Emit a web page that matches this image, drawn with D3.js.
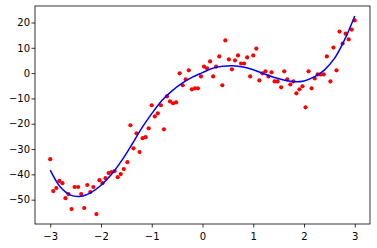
<!DOCTYPE html>
<html>
<head>
<meta charset="utf-8">
<script src="https://cdn.jsdelivr.net/npm/d3@7"></script>
<style>
  body { margin: 0; background: #fff; }
  svg { display: block; }
  .tick text { font-family: "DejaVu Sans", sans-serif; font-size: 10px; fill: #000; }
</style>
</head>
<body>
<div id="chart"></div>
<script>
// scatter samples (red dots)
const pointX = [
  -3.00, -2.94, -2.88, -2.82, -2.76, -2.70, -2.64, -2.58, -2.52, -2.45,
  -2.39, -2.33, -2.27, -2.21, -2.15, -2.09, -2.03, -1.97, -1.91, -1.85,
  -1.79, -1.73, -1.67, -1.61, -1.55, -1.48, -1.42, -1.36, -1.30, -1.24,
  -1.18, -1.12, -1.06, -1.00, -0.94, -0.88, -0.82, -0.76, -0.70, -0.64,
  -0.58, -0.52, -0.45, -0.39, -0.33, -0.27, -0.21, -0.15, -0.09, -0.03,
  0.03, 0.09, 0.15, 0.21, 0.27, 0.33, 0.39, 0.45, 0.52, 0.58,
  0.64, 0.70, 0.76, 0.82, 0.88, 0.94, 1.00, 1.06, 1.12, 1.18,
  1.24, 1.30, 1.36, 1.42, 1.48, 1.55, 1.61, 1.67, 1.73, 1.79,
  1.85, 1.91, 1.97, 2.03, 2.09, 2.15, 2.21, 2.27, 2.33, 2.39,
  2.45, 2.52, 2.58, 2.64, 2.70, 2.76, 2.82, 2.88, 2.94, 3.00
];
const pointY = [
  -34.0, -46.6, -45.4, -42.6, -43.5, -49.4, -47.8, -53.7, -45.0, -45.0,
  -47.8, -53.3, -44.2, -47.0, -45.0, -55.7, -42.3, -43.5, -41.5, -39.5,
  -39.1, -38.7, -41.1, -39.9, -37.9, -35.2, -20.6, -29.7, -23.8, -31.2,
  -25.7, -25.3, -21.8, -12.7, -17.1, -15.9, -12.7, -22.2, -9.2, -11.2,
  -11.9, -11.6, -0.1, -4.8, -2.5, 1.1, -6.4, -6.0, -6.0, -1.3,
  2.6, 1.9, 4.6, -1.3, 2.6, 6.6, -4.8, 12.9, 5.4, 1.5,
  5.0, 7.0, 3.8, 3.8, 6.2, -1.3, 7.0, 9.7, -2.9, -0.1,
  0.7, -1.3, 0.3, -3.3, -3.3, -5.6, 0.7, -2.5, -4.5, -3.3,
  -8.0, -6.4, -5.2, -13.5, 0.7, -6.0, -2.1, -0.5, -0.5, -0.5,
  6.6, -3.3, 10.1, 1.1, 16.4, 11.7, 15.6, 13.3, 17.2, 20.8
];

// fitted curve (blue line)
const fitX = [
  -3.0, -2.8, -2.6, -2.4, -2.2, -2.0, -1.8, -1.6, -1.4, -1.2, -1.0,
  -0.8, -0.6, -0.4, -0.2, 0.0, 0.2, 0.4, 0.6, 0.8, 1.0,
  1.2, 1.4, 1.6, 1.8, 2.0, 2.2, 2.4, 2.6, 2.8, 3.0
];
const fitY = [
  -38.3, -45.0, -48.2, -48.7, -47.2, -44.3, -40.2, -34.8, -28.5, -21.8, -16.0,
  -10.8, -7.0, -4.0, -1.6, 0.2, 1.9, 2.7, 2.9, 2.4, 1.3,
  -0.2, -1.6, -2.7, -3.4, -3.1, -1.5, 1.2, 5.8, 13.2, 22.6
];

const xTicks = [-3, -2, -1, 0, 1, 2, 3];
const yTicks = [-50, -40, -30, -20, -10, 0, 10, 20];

const width = 377;
const height = 248;
const margin = { top: 6, right: 7, bottom: 24, left: 35 };

const points = pointX.map((x, i) => ({ x, y: pointY[i] }));
const fit = fitX.map((x, i) => ({ x, y: fitY[i] }));

// matplotlib style 5% padding around the data
const pad = ([lo, hi]) => [lo - (hi - lo) * 0.05, hi + (hi - lo) * 0.05];
const xExt = d3.extent(pointX.concat(fitX));
const yExt = d3.extent(pointY.concat(fitY));

const x = d3.scaleLinear().domain(pad(xExt)).range([margin.left, width - margin.right]);
const y = d3.scaleLinear().domain(pad(yExt)).range([height - margin.bottom, margin.top]);

const svg = d3.select("#chart").append("svg").attr("width", width).attr("height", height);

svg
  .append("g")
  .attr("transform", `translate(0,${height - margin.bottom})`)
  .call(d3.axisBottom(x).tickValues(xTicks).tickFormat(d3.format("d")).tickSizeInner(3.5).tickSizeOuter(0).tickPadding(5))
  .call((g) => g.select(".domain").remove())
  .call((g) => g.selectAll(".tick line").attr("stroke", "#000").attr("stroke-width", 0.8));

svg
  .append("g")
  .attr("transform", `translate(${margin.left},0)`)
  .call(d3.axisLeft(y).tickValues(yTicks).tickFormat(d3.format("d")).tickSizeInner(3.5).tickSizeOuter(0).tickPadding(1.5))
  .call((g) => g.select(".domain").remove())
  .call((g) => g.selectAll(".tick line").attr("stroke", "#000").attr("stroke-width", 0.8));

// dots
svg
  .append("g")
  .selectAll("circle")
  .data(points)
  .join("circle")
  .attr("cx", (d) => x(d.x))
  .attr("cy", (d) => y(d.y))
  .attr("r", 2.1)
  .attr("fill", "#ff0000");

// fit line
const line = d3
  .line()
  .x((d) => x(d.x))
  .y((d) => y(d.y))
  .curve(d3.curveCatmullRom.alpha(0.5));

svg
  .append("path")
  .datum(fit)
  .attr("fill", "none")
  .attr("stroke", "#0000ff")
  .attr("stroke-width", 1.5)
  .attr("d", line);

// axes frame
svg
  .append("rect")
  .attr("x", margin.left)
  .attr("y", margin.top)
  .attr("width", width - margin.left - margin.right)
  .attr("height", height - margin.top - margin.bottom)
  .attr("fill", "none")
  .attr("stroke", "#000")
  .attr("stroke-width", 0.8);
</script>
</body>
</html>
